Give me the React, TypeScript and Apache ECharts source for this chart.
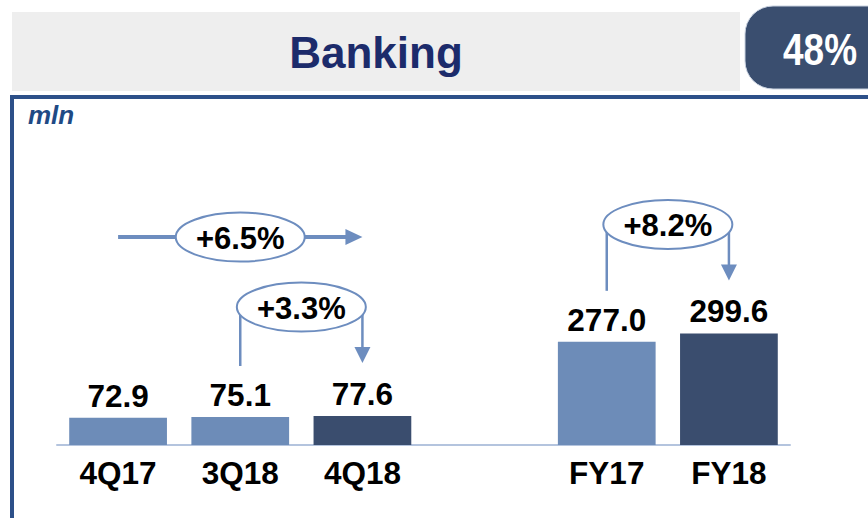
import React, { useEffect, useRef } from "react";
import * as echarts from "echarts";

const categories = ["4Q17", "3Q18", "4Q18", "", "FY17", "FY18"];
const values: (number | null)[] = [72.9, 75.1, 77.6, null, 277.0, 299.6];
const darkCategories = ["4Q18", "FY18"];

const title = "Banking";
const share = "48%";
const unit = "mln";

const changeLabels = ["+6.5%", "+3.3%", "+8.2%"];
const changeFrom = ["4Q17", "3Q18", "FY17"];
const changeTo = ["4Q18", "4Q18", "FY18"];
const changeKind = ["straight", "loop", "loop"];

const FONT = "'Liberation Sans', Arial, Helvetica, sans-serif";
const LIGHT = "#6d8cb8";
const DARK = "#3a4d6e";
const LINE = "#6d8dbf";

export default function App() {
  const ref = useRef<HTMLDivElement>(null);
  useEffect(() => {
    if (!ref.current) return;
    const chart = echarts.init(ref.current, undefined, { renderer: "svg" });
    const option: any = {
      animation: false,
      backgroundColor: "#ffffff",
      grid: { left: 57, right: 78, top: 296, bottom: 73 },
      xAxis: {
        type: "category",
        data: categories,
        axisLine: { show: true, lineStyle: { color: "#b4c4de", width: 2 } },
        axisTick: { show: false },
        axisLabel: {
          margin: 12,
          color: "#000000",
          fontSize: 31.5,
          fontWeight: "bold",
          fontFamily: FONT,
          interval: 0,
        },
      },
      yAxis: { type: "value", min: 0, max: 400, show: false, splitLine: { show: false } },
      series: [
        {
          type: "bar",
          barCategoryGap: "20%",
          data: values.map((v, i) => ({
            value: v,
            itemStyle: { color: darkCategories.includes(categories[i]) ? DARK : LIGHT },
          })),
          label: {
            show: true,
            position: "top",
            distance: 6,
            color: "#000000",
            fontSize: 31.5,
            fontWeight: "bold",
            fontFamily: FONT,
            formatter: (p: any) => (p.value == null ? "" : Number(p.value).toFixed(1)),
          },
        },
      ],
    };
    chart.setOption(option);

    const pt = (idx: number, v: number) =>
      chart.convertToPixel({ xAxisIndex: 0, yAxisIndex: 0 }, [idx, v]) as number[];

    const graphics: any[] = [];
    // header band
    graphics.push({ type: "rect", shape: { x: 12, y: 12, width: 728, height: 21 }, style: { fill: "#eeeeee" }, z: 1 });
    graphics.push({ type: "rect", shape: { x: 12, y: 33, width: 728, height: 58 }, style: { fill: "#eeeeee" }, z: 1 });
    const pattern: any[] = [];
    for (let x = 13; x < 740; x += 3) {
      pattern.push({ type: "line", shape: { x1: x + 0.5, y1: 33, x2: x + 0.5, y2: 91 }, style: { stroke: "#d0d0d0", lineWidth: 1 } });
    }
    for (let y = 34; y < 91; y += 3) {
      pattern.push({ type: "line", shape: { x1: 12, y1: y + 0.5, x2: 740, y2: y + 0.5 }, style: { stroke: "#d0d0d0", lineWidth: 1 } });
    }
    graphics.push({ type: "group", z: 2, children: pattern });
    graphics.push({
      type: "text", z: 3, x: 376, y: 52,
      style: { text: title, fill: "#1c2b6b", font: `bold 44px ${FONT}`, align: "center", verticalAlign: "middle" },
    });
    // share tab
    graphics.push({ type: "rect", z: 3, shape: { x: 745, y: 6, width: 160, height: 83, r: 28 }, style: { fill: "#3a4e6f", stroke: "#c9d2e0", lineWidth: 1 } });
    graphics.push({
      type: "text", z: 4, x: 820, y: 50, scaleY: 1.18,
      style: { text: share, fill: "#ffffff", font: `bold 37px ${FONT}`, align: "center", verticalAlign: "middle" },
    });
    // frame
    graphics.push({ type: "rect", z: 3, shape: { x: 10, y: 95, width: 858, height: 4 }, style: { fill: "#2d5089" } });
    graphics.push({ type: "rect", z: 3, shape: { x: 10, y: 95, width: 4, height: 423 }, style: { fill: "#2d5089" } });
    graphics.push({
      type: "text", z: 3, x: 28, y: 128,
      style: { text: unit, fill: "#1f4a85", font: `italic bold 26px ${FONT}`, align: "left", verticalAlign: "bottom" },
    });

    // change annotations
    const ellipse = (cx: number, cy: number, label: string) => [
      { type: "ellipse", z: 6, shape: { cx, cy, rx: 64.5, ry: 24.5 }, style: { fill: "#ffffff", stroke: LINE, lineWidth: 2 } },
      {
        type: "text", z: 7, x: cx, y: cy + 1,
        style: { text: label, fill: "#000000", font: `bold 31px ${FONT}`, align: "center", verticalAlign: "middle" },
      },
    ];
    changeLabels.forEach((label, k) => {
      const fi = categories.indexOf(changeFrom[k]);
      const ti = categories.indexOf(changeTo[k]);
      const f = pt(fi, values[fi] as number);
      const t = pt(ti, values[ti] as number);
      if (changeKind[k] === "straight") {
        const mi = Math.round((fi + ti) / 2);
        const cx = pt(mi, 0)[0];
        const y = t[1] - 179;
        graphics.push({ type: "line", z: 5, shape: { x1: f[0], y1: y, x2: t[0] - 15, y2: y }, style: { stroke: LINE, lineWidth: 4 } });
        graphics.push({ type: "polygon", z: 5, shape: { points: [[t[0] - 17, y - 8], [t[0], y], [t[0] - 17, y + 8]] }, style: { fill: LINE } });
        graphics.push(...ellipse(cx, y, label));
      } else {
        const cx = (f[0] + t[0]) / 2;
        const cy = Math.min(f[1], t[1]) - 109;
        const leftEnd = f[1] - 51;
        const tip = t[1] - 53;
        graphics.push({ type: "line", z: 5, shape: { x1: f[0], y1: cy, x2: f[0], y2: leftEnd }, style: { stroke: LINE, lineWidth: 2.5 } });
        graphics.push({ type: "line", z: 5, shape: { x1: t[0], y1: cy, x2: t[0], y2: tip - 14 }, style: { stroke: LINE, lineWidth: 2.5 } });
        graphics.push({ type: "polygon", z: 5, shape: { points: [[t[0] - 8, tip - 16], [t[0] + 8, tip - 16], [t[0], tip]] }, style: { fill: LINE } });
        graphics.push(...ellipse(cx, cy, label));
      }
    });
    chart.setOption({ graphic: graphics });
    return () => chart.dispose();
  }, []);
  return <div ref={ref} style={{ position: "fixed", left: 0, top: 0, width: 868, height: 518 }} />;
}
